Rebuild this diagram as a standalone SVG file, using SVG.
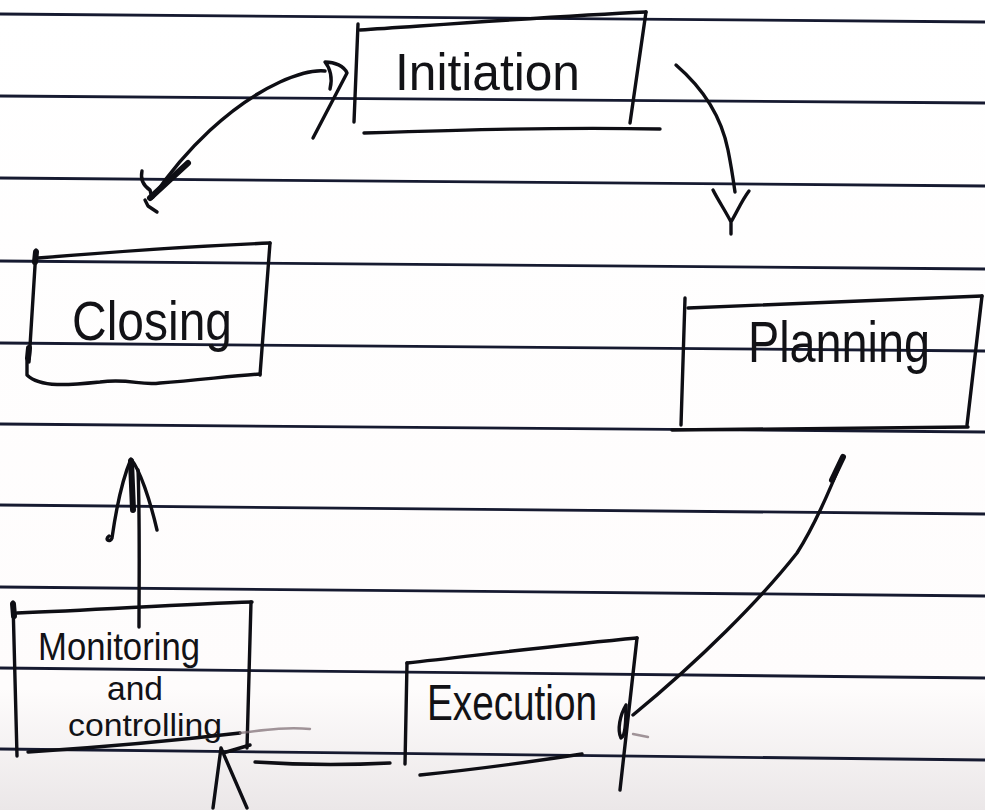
<svg xmlns="http://www.w3.org/2000/svg" width="985" height="810" viewBox="0 0 985 810">
<defs>
<linearGradient id="paper" x1="0" y1="0" x2="0" y2="1">
<stop offset="0" stop-color="#ffffff"/>
<stop offset="0.85" stop-color="#fefcfc"/>
<stop offset="1" stop-color="#ebe7e8"/>
</linearGradient>
<style>
.rule{stroke:#161a30;stroke-width:2.8;fill:none}
.ink{stroke:#0e0e14;stroke-width:3.4;fill:none;stroke-linecap:round;stroke-linejoin:round}
.thick{stroke:#0e0e14;stroke-width:6;fill:none;stroke-linecap:round}
.faint{stroke:#7a6a70;stroke-width:2.4;fill:none;stroke-linecap:round;opacity:0.7}
.txt{font-family:"Liberation Sans","DejaVu Sans",sans-serif;fill:#121216;font-weight:normal}
</style>
</defs>
<rect x="0" y="0" width="985" height="810" fill="url(#paper)"/>
<g id="ruled-lines">
<path class="rule" d="M0,14 L985,22"/>
<path class="rule" d="M0,96 L985,103"/>
<path class="rule" d="M0,178 L985,186"/>
<path class="rule" d="M0,261 L985,269"/>
<path class="rule" d="M0,343 L985,351"/>
<path class="rule" d="M0,424 L985,432"/>
<path class="rule" d="M0,505 L985,514"/>
<path class="rule" d="M0,587 L985,596"/>
<path class="rule" d="M0,668 L985,678"/>
<path class="rule" d="M0,749 L985,760"/>
</g>
<g id="initiation">
<path class="ink" d="M358,24 L354,122"/>
<path class="ink" d="M360,30 C450,24 560,16 646,12"/>
<path class="ink" d="M646,12 L630,123"/>
<path class="ink" d="M364,133 C460,130 560,127 660,129"/>
<text class="txt" x="395" y="90" font-size="52" textLength="185" lengthAdjust="spacingAndGlyphs">Initiation</text>
</g>
<g id="closing">
<path class="ink" d="M36,250 L29,362"/>
<path class="thick" d="M36,252 L35,262 M29,348 L28,358"/>
<path class="ink" d="M38,258 C110,252 200,246 270,243"/>
<path class="ink" d="M270,243 L260,375"/>
<path class="ink" d="M27,360 L27,375 C40,388 70,385 100,382 C130,378 140,386 160,383 C200,380 230,376 260,374"/>
<text class="txt" x="72" y="340" font-size="56" textLength="160" lengthAdjust="spacingAndGlyphs">Closing</text>
</g>
<g id="planning">
<path class="ink" d="M685,298 L681,425"/>
<path class="ink" d="M688,308 C780,304 880,300 982,296"/>
<path class="ink" d="M982,296 L967,425"/>
<path class="ink" d="M672,430 C760,430 860,428 968,427"/>
<text class="txt" x="748" y="362" font-size="58" textLength="182" lengthAdjust="spacingAndGlyphs">Planning</text>
</g>
<g id="execution">
<path class="ink" d="M407,663 L405,764"/>
<path class="ink" d="M407,663 C480,655 560,645 637,638"/>
<path class="ink" d="M637,638 L620,790"/>
<path class="ink" d="M420,775 C470,770 530,762 582,754"/>
<text class="txt" x="427" y="720" font-size="50" textLength="170" lengthAdjust="spacingAndGlyphs">Execution</text>
</g>
<g id="monitoring">
<path class="ink" d="M13,602 L17,756"/>
<path class="thick" d="M13,604 L14,616"/>
<path class="ink" d="M17,613 C100,610 180,604 252,602"/>
<path class="ink" d="M251,602 L247,748"/>
<path class="ink" d="M28,752 C90,748 180,740 240,733"/>
<text class="txt" x="38" y="660" font-size="38" textLength="162" lengthAdjust="spacingAndGlyphs">Monitoring</text>
<text class="txt" x="107" y="700" font-size="34" textLength="56" lengthAdjust="spacingAndGlyphs">and</text>
<text class="txt" x="68" y="736" font-size="32" textLength="154" lengthAdjust="spacingAndGlyphs">controlling</text>
</g>
<g id="connectors">
<path class="ink" d="M676,65 C705,90 722,120 728,150 C732,170 734,185 735,192"/>
<path class="ink" d="M713,190 C718,200 726,212 731,222 C737,212 742,200 749,191 M731,222 L731,234"/>
<path class="ink" d="M153,197 C185,150 230,105 280,82 C300,73 315,70 325,71"/>
<path class="ink" d="M330,89 C333,78 330,68 325,62 C335,62 344,66 347,73 L313,138"/>
<path class="ink" d="M142,171 C140,180 144,186 150,190 L152,198"/>
<path class="thick" d="M150,198 L188,163"/>
<path class="ink" d="M145,200 L148,206 L157,212"/>
<path class="ink" d="M139,627 C139,580 140,520 138,470"/>
<path class="ink" d="M109,536 C104,540 110,543 112,538 C116,510 122,480 131,459 C140,470 150,500 157,530"/>
<path class="thick" d="M131,461 L133,510"/>
<path class="ink" d="M843,457 C830,490 815,525 797,553 C760,600 700,660 633,715"/>
<path class="thick" d="M843,457 L832,480"/>
<path class="ink" d="M626,705 C620,715 617,730 621,738 C626,736 626,720 626,705"/>
<path class="faint" d="M633,734 L648,737"/>
<path class="ink" d="M255,762 C300,765 350,765 390,763"/>
<path class="faint" d="M240,733 C270,729 290,727 310,729"/>
<path class="ink" d="M213,808 L221,748 L247,808 M223,753 L250,745"/>
</g>
</svg>
